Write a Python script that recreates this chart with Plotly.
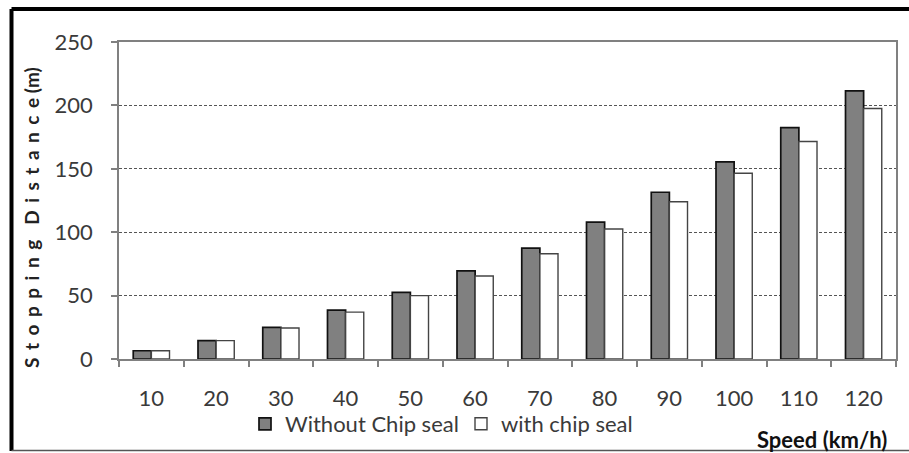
import plotly.graph_objects as go

speeds = ["10", "20", "30", "40", "50", "60", "70", "80", "90", "100", "110", "120"]
without_chip = [6.5, 14.5, 25, 38.5, 52.5, 69.5, 87.5, 108, 131.5, 155.5, 182.5, 211.5]
with_chip = [6.5, 14.5, 24.5, 37, 50, 65.5, 83, 102.5, 124, 146.5, 171.5, 197.5]
y_ticks = [0, 50, 100, 150, 200, 250]

FONT = "Lato"
TXT = "#3a3a3a"

fig = go.Figure()
fig.add_trace(go.Bar(x=speeds, y=without_chip, name="Without Chip seal",
                     marker=dict(color="#808080", line=dict(color="#111111", width=1.7))))
fig.add_trace(go.Bar(x=speeds, y=with_chip, name="with chip seal",
                     marker=dict(color="#ffffff", line=dict(color="#444444", width=1.4))))

W, H = 909, 453
L, R, T, B = 119, 13, 42, 94
pw, ph = W - L - R, H - T - B

def px(x):
    return (x - L) / pw

def py(y):
    return (H - B - y) / ph

fig.update_layout(
    width=W, height=H,
    margin=dict(l=L, r=R, t=T, b=B, autoexpand=False),
    paper_bgcolor="white", plot_bgcolor="white",
    barmode="group", bargap=0.44, bargroupgap=0,
    font=dict(family=FONT, size=22, color=TXT),
    showlegend=True,
    legend=dict(orientation="h", x=px(245), y=py(424), xanchor="left", yanchor="middle",
                font=dict(family=FONT, size=22, color=TXT), entrywidth=171, entrywidthmode="pixels",
                itemwidth=30, bgcolor="rgba(0,0,0,0)", traceorder="normal"),
    xaxis=dict(type="category", showline=True, linecolor="#808080", linewidth=1.5, mirror=True,
               ticks="outside", tickson="boundaries", ticklen=6, tickcolor="#808080", tickwidth=1.5,
               ticklabelstandoff=19, showgrid=False, automargin=False,
               tickfont=dict(family=FONT, size=22, color=TXT)),
    yaxis=dict(range=[0, 250], tickvals=y_ticks, showline=True, linecolor="#808080", linewidth=1.5,
               mirror=True, ticks="outside", ticklen=6, tickcolor="#808080", tickwidth=1.5,
               ticklabelstandoff=14, automargin=False,
               showgrid=True, gridcolor="#555555", gridwidth=1, griddash="3px,2px",
               zeroline=False, tickfont=dict(family=FONT, size=22, color=TXT)),
)

sp = "\u2004\u200a"
ytitle = sp.join("Stopping") + sp * 2 + sp.join("Distance") + " (m)"
fig.add_annotation(text="<b>" + ytitle + "</b>", xref="paper", yref="paper",
                   x=px(31), y=py(218), textangle=-90, showarrow=False,
                   font=dict(family=FONT, size=19, color="#222222"),
                   xanchor="center", yanchor="middle")
fig.add_annotation(text="<b>Speed (km/h)</b>", xref="paper", yref="paper",
                   x=px(889), y=py(439), xanchor="right", yanchor="middle", showarrow=False,
                   font=dict(family=FONT, size=22, color="#111111"))

# outer frame
fig.add_shape(type="line", xref="paper", yref="paper", x0=px(11.5), x1=px(911), y0=py(9), y1=py(9),
              line=dict(color="black", width=4))
fig.add_shape(type="line", xref="paper", yref="paper", x0=px(11.5), x1=px(11.5), y0=py(9), y1=py(451),
              line=dict(color="black", width=4))
fig.add_shape(type="line", xref="paper", yref="paper", x0=px(11.5), x1=px(911), y0=py(450.5), y1=py(450.5),
              line=dict(color="#555555", width=1.5))

fig.write_html("out.html", config={"displayModeBar": False},
               post_script="document.body.style.margin='0';document.body.style.overflow='hidden';")
